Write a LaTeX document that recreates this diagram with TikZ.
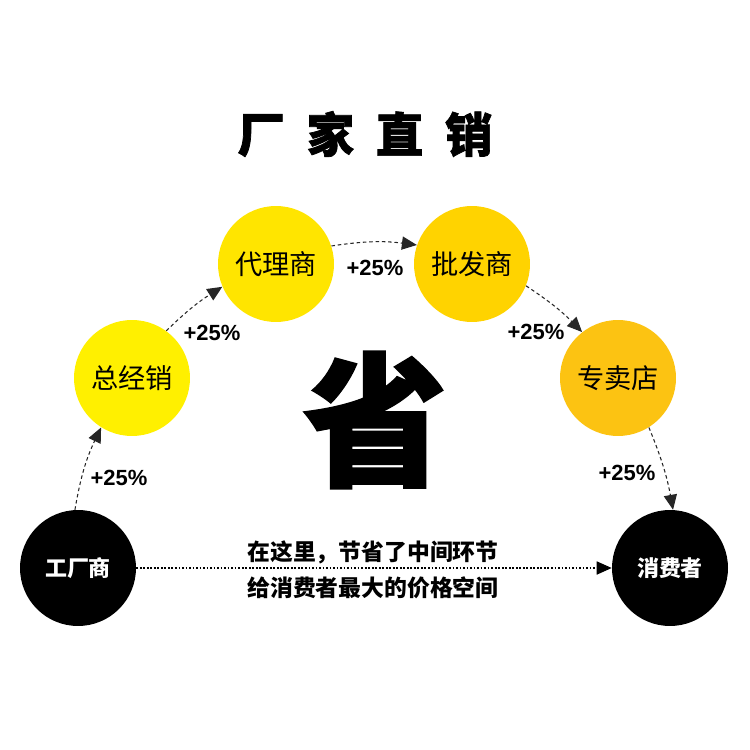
\documentclass[tikz,border=0pt]{standalone}
\usepackage{fontspec}
\usepackage{xcolor}
\usetikzlibrary{arrows.meta}
\newfontfamily\cjk{Noto Sans CJK SC}
\newfontfamily\cjkheavy[BoldFeatures={FakeBold=1.5}]{Noto Sans CJK SC}
\newfontfamily\latn{Liberation Sans}
\definecolor{yellowA}{HTML}{FFF000}
\definecolor{yellowB}{HTML}{FFE500}
\definecolor{yellowC}{HTML}{FFD300}
\definecolor{yellowD}{HTML}{FCC312}

\begin{document}
\begin{tikzpicture}[x=0.02cm, y=-0.02cm,
    stop/.style={circle, minimum size=2.32cm, inner sep=0pt,
        font=\cjk\fontsize{15.5}{15.5}\selectfont},
    endstop/.style={stop, fill=black, text=white,
        font=\cjk\bfseries\fontsize{12.5}{12.5}\selectfont},
    flow/.style={dash pattern=on 2pt off 1.6pt, line width=0.6pt, draw=black!85,
        -{Triangle[length=8.5pt,width=7.5pt]}},
    pct/.style={font=\latn\bfseries\fontsize{12.5}{12.5}\selectfont}]

        % Page frame
        \useasboundingbox[fill=white] (0,0) rectangle (750,750);

        % Title
        \node[font=\cjkheavy\bfseries\fontsize{27}{27}\selectfont] (title) at (365,134)
            {厂\hspace{0.46em}家\hspace{0.46em}直\hspace{0.46em}销};

        % Define the stations along the chain
        \node[endstop] (F) at (78,568) {工厂商};
        \node[stop, fill=yellowA] (S1) at (132,378) {总经销};
        \node[stop, fill=yellowB] (S2) at (276,264) {代理商};
        \node[stop, fill=yellowC] (S3) at (472,264) {批发商};
        \node[stop, fill=yellowD] (S4) at (618,378) {专卖店};
        \node[endstop] (C) at (670,568) {消费者};

        % Big character in the middle
        \node[font=\cjkheavy\bfseries\fontsize{82}{82}\selectfont] (sheng) at (375,420) {省};

        % Dashed arrows between stations
        \draw[flow] (F.93) to[bend left=8] (S1.238);
        \draw[flow] (S1.54) to[bend left=6] (S2.203);
        \draw[flow] (S2.18) to[bend left=8] (S3.161);
        \draw[flow] (S3.-22) to[bend left=6] (S4.128);
        \draw[flow] (S4.-58) to[bend left=6] (C.87);

        % Markup labels
        \node[pct] (p1) at (119,478) {+25\%};
        \node[pct] (p2) at (212,333) {+25\%};
        \node[pct] (p3) at (375,268) {+25\%};
        \node[pct] (p4) at (536,332) {+25\%};
        \node[pct] (p5) at (627,473) {+25\%};

        % Direct route
        \draw[dash pattern=on 1pt off 1pt, line width=0.6pt,
            -{Triangle[length=8.5pt,width=7.5pt]}] (F.east) -- (C.west);
        \node[align=center, font=\cjk\bfseries\fontsize{13}{20.4}\selectfont] (note) at (373,570)
            {在这里，节省了中间环节\\给消费者最大的价格空间};

\end{tikzpicture}
\end{document}
